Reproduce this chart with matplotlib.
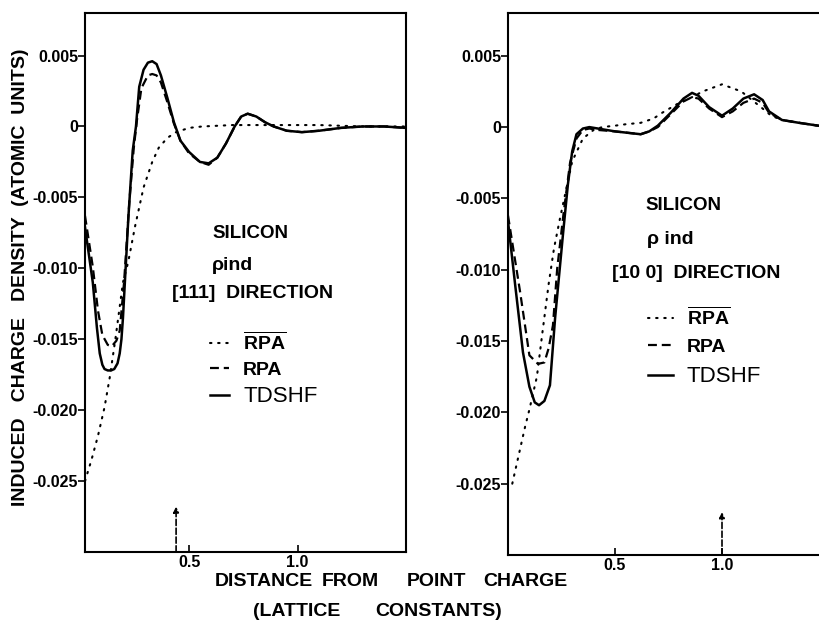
import matplotlib
matplotlib.use("Agg")
import matplotlib.pyplot as plt

plt.rcParams['font.family'] = ['Liberation Sans', 'DejaVu Sans']
plt.rcParams['mathtext.fontset'] = 'custom'
plt.rcParams['mathtext.rm'] = 'Liberation Sans:bold'
plt.rcParams['mathtext.bf'] = 'Liberation Sans:bold'

# [111] direction (left panel)
x111_tdshf = [0.02, 0.056, 0.075, 0.088, 0.10, 0.11, 0.125, 0.14, 0.155, 0.17, 0.18, 0.188, 0.195,
              0.22, 0.24, 0.255, 0.27, 0.29, 0.31, 0.33, 0.35, 0.37, 0.40, 0.43, 0.46, 0.50, 0.55,
              0.59, 0.63, 0.67, 0.71, 0.74, 0.77, 0.81, 0.85, 0.89, 0.95, 1.02, 1.10, 1.20, 1.30,
              1.40, 1.50]
y111_tdshf = [-0.0071, -0.0110, -0.0142, -0.0160, -0.0168, -0.0171, -0.0172, -0.0172, -0.0171,
              -0.0167, -0.0160, -0.0150, -0.0135, -0.0064, -0.0017, 0.0000, 0.0028, 0.0040,
              0.0045, 0.0046, 0.0044, 0.0036, 0.0020, 0.0003, -0.0010, -0.0018, -0.0025, -0.0026,
              -0.0022, -0.0012, 0.0000, 0.0007, 0.0009, 0.0007, 0.0003, 0.0000, -0.0003, -0.0004,
              -0.0003, -0.0001, 0.0000, 0.0000, -0.0001]

x111_rpa = [0.02, 0.056, 0.08, 0.10, 0.125, 0.143, 0.165, 0.18, 0.20, 0.225, 0.245, 0.26, 0.28,
            0.31, 0.33, 0.35, 0.37, 0.40, 0.43, 0.46, 0.50, 0.55, 0.59, 0.63, 0.67, 0.71, 0.74,
            0.77, 0.81, 0.85, 0.89, 0.95, 1.02, 1.10, 1.20, 1.30, 1.40, 1.50]
y111_rpa = [-0.0063, -0.0099, -0.0130, -0.0147, -0.0154, -0.0155, -0.0151, -0.0144, -0.0110,
            -0.0052, -0.0015, 0.0005, 0.0027, 0.0036, 0.0037, 0.0036, 0.0031, 0.0017, 0.0002,
            -0.0010, -0.0019, -0.0025, -0.0027, -0.0022, -0.0012, 0.0000, 0.0007, 0.0009, 0.0007,
            0.0003, 0.0000, -0.0003, -0.0004, -0.0003, -0.0001, 0.0000, 0.0000, -0.0001]

x111_rpabar = [0.02, 0.05, 0.08, 0.11, 0.134, 0.16, 0.195, 0.22, 0.25, 0.29, 0.33, 0.36, 0.40,
               0.44, 0.50, 0.56, 0.70, 0.90, 1.10, 1.30, 1.50]
y111_rpabar = [-0.0250, -0.0235, -0.0218, -0.0198, -0.0177, -0.0150, -0.0110, -0.0095, -0.0071,
               -0.0043, -0.0025, -0.0015, -0.0008, -0.0004, -0.0001, 0.0000, 0.0001, 0.0001,
               0.0001, 0.0000, 0.0000]

# [100] direction (right panel)
x100_tdshf = [0.0, 0.033, 0.07, 0.10, 0.125, 0.145, 0.17, 0.196, 0.22, 0.257, 0.28, 0.30, 0.32,
              0.35, 0.38, 0.42, 0.50, 0.56, 0.62, 0.66, 0.70, 0.76, 0.82, 0.86, 0.89, 0.94, 1.00,
              1.05, 1.10, 1.15, 1.19, 1.22, 1.28, 1.36, 1.45, 1.50]
y100_tdshf = [-0.0066, -0.0110, -0.0158, -0.0182, -0.0193, -0.0195, -0.0192, -0.0181, -0.0134,
              -0.0075, -0.0040, -0.0017, -0.0005, -0.0001, 0.0000, -0.0001, -0.0003, -0.0004,
              -0.0005, -0.0003, 0.0001, 0.0010, 0.0020, 0.0024, 0.0022, 0.0014, 0.0008, 0.0013,
              0.0020, 0.0023, 0.0019, 0.0011, 0.0005, 0.0003, 0.0001, 0.0001]

x100_rpa = [0.0, 0.056, 0.10, 0.14, 0.17, 0.19, 0.21, 0.23, 0.26, 0.29, 0.32, 0.35, 0.38, 0.42,
            0.50, 0.56, 0.62, 0.66, 0.70, 0.76, 0.82, 0.86, 0.89, 0.94, 1.00, 1.05, 1.10, 1.15,
            1.19, 1.22, 1.28, 1.36, 1.45, 1.50]
y100_rpa = [-0.0062, -0.0115, -0.0160, -0.0166, -0.0165, -0.0155, -0.0139, -0.0099, -0.0060,
            -0.0025, -0.0008, -0.0002, -0.0001, -0.0002, -0.0003, -0.0004, -0.0005, -0.0003,
            0.0000, 0.0009, 0.0018, 0.0021, 0.0020, 0.0013, 0.0007, 0.0011, 0.0017, 0.0020,
            0.0017, 0.0010, 0.0005, 0.0003, 0.0001, 0.0001]

x100_rpabar = [0.02, 0.05, 0.08, 0.10, 0.135, 0.16, 0.19, 0.215, 0.243, 0.27, 0.30, 0.35, 0.40,
               0.44, 0.50, 0.55, 0.62, 0.68, 0.72, 0.80, 0.86, 0.91, 1.00, 1.09, 1.14, 1.19,
               1.23, 1.28, 1.36, 1.45, 1.50]
y100_rpabar = [-0.0250, -0.0230, -0.0210, -0.0198, -0.0175, -0.0145, -0.0110, -0.0085, -0.0064,
               -0.0045, -0.0024, -0.0008, -0.0002, 0.0000, 0.0001, 0.0002, 0.0003, 0.0006,
               0.0010, 0.0017, 0.0021, 0.0025, 0.0030, 0.0025, 0.0019, 0.0013, 0.0008, 0.0005,
               0.0003, 0.0001, 0.0001]

yticks = [0.005, 0.0, -0.005, -0.010, -0.015, -0.020, -0.025]
ytick_labels = ['0.005', '0', '-0.005', '-0.010', '-0.015', '-0.020', '-0.025']
xticks = [0.5, 1.0]
xtick_labels = ['0.5', '1.0']
arrow_x111 = 0.44
arrow_x100 = 1.0

W, H = 819, 626
fig = plt.figure(figsize=(W / 100, H / 100), dpi=100)
ax1 = fig.add_axes([85 / W, 1 - 552 / H, 321 / W, 539 / H])
ax2 = fig.add_axes([508 / W, 1 - 555 / H, 321 / W, 542 / H])

dot = (0, (0.7, 3.2))
dash = (0, (4, 2.2))


def draw_panel(ax, data, xlim, arrow_x, arrow_top):
    (xb, yb), (xr, yr), (xt, yt) = data
    h_bar, = ax.plot(xb, yb, color='k', lw=1.5, linestyle=dot, dash_capstyle='round')
    h_rpa, = ax.plot(xr, yr, color='k', lw=1.6, linestyle=dash)
    h_td, = ax.plot(xt, yt, color='k', lw=1.8)
    ax.set_xlim(*xlim)
    ax.set_ylim(-0.030, 0.008)
    ax.set_yticks(yticks)
    ax.set_yticklabels(ytick_labels, fontsize=11.5, fontweight='bold')
    ax.set_xticks(xticks)
    ax.set_xticklabels(xtick_labels, fontsize=11.5, fontweight='bold')
    ax.tick_params(axis='y', direction='out', length=5, width=1.2, pad=0)
    ax.tick_params(axis='x', direction='in', length=5, width=1.2, pad=2)
    for s in ax.spines.values():
        s.set_linewidth(1.5)
    ax.annotate('', xy=(arrow_x, arrow_top), xytext=(arrow_x, -0.030),
                arrowprops=dict(arrowstyle='-|>', color='k', lw=1.2, linestyle='--',
                                mutation_scale=8, shrinkA=0, shrinkB=0))
    return h_bar, h_rpa, h_td


hs1 = draw_panel(ax1, [(x111_rpabar, y111_rpabar), (x111_rpa, y111_rpa),
                       (x111_tdshf, y111_tdshf)], (0.02, 1.5), arrow_x111, -0.0268)
hs2 = draw_panel(ax2, [(x100_rpabar, y100_rpabar), (x100_rpa, y100_rpa),
                       (x100_tdshf, y100_tdshf)], (0.0, 1.5), arrow_x100, -0.0270)


def ftext(x, y, s, **kw):
    fig.text(x / W, 1 - y / H, s, va='center', **kw)


# left panel annotations
ftext(212, 233, 'SILICON', fontsize=13.5, fontweight='bold')
ftext(212, 265, 'ρind', fontsize=14, fontweight='bold')
ftext(172, 294, '[111]  DIRECTION', fontsize=14, fontweight='bold')

# right panel annotations
ftext(645, 205, 'SILICON', fontsize=13.5, fontweight='bold')
ftext(647, 240, 'ρ ind', fontsize=14, fontweight='bold')
ftext(612, 273, '[10 0]  DIRECTION', fontsize=14, fontweight='bold')

labels = [r'$\overline{\mathrm{RPA}}$', 'RPA', 'TDSHF']
for ax, hs, anchor, hl, sp in [(ax1, hs1, (210, 331), 1.0, 0.38),
                               (ax2, hs2, (648, 306), 1.3, 0.5)]:
    leg = ax.legend(hs, labels, loc='upper left', frameon=False,
                    bbox_to_anchor=(anchor[0] / W, 1 - anchor[1] / H),
                    bbox_transform=fig.transFigure, handlelength=hl, handletextpad=0.7,
                    labelspacing=sp, borderaxespad=0, borderpad=0,
                    prop={'size': 14, 'weight': 'bold'})
    txts = leg.get_texts()
    txts[2].set_fontweight('normal')
    txts[2].set_fontsize(16)

ftext(21, 277, 'INDUCED   CHARGE   DENSITY  (ATOMIC  UNITS)', fontsize=14,
      fontweight='bold', rotation=90, ha='center')

# axis title words placed as in the original lettering
for x, word in [(215, 'DISTANCE'), (322, 'FROM'), (407, 'POINT'), (483, 'CHARGE')]:
    ftext(x, 581, word, fontsize=14, fontweight='bold')
for x, word in [(253, '(LATTICE'), (375, 'CONSTANTS)')]:
    ftext(x, 611, word, fontsize=14, fontweight='bold')

fig.savefig('out.png', dpi=100)
